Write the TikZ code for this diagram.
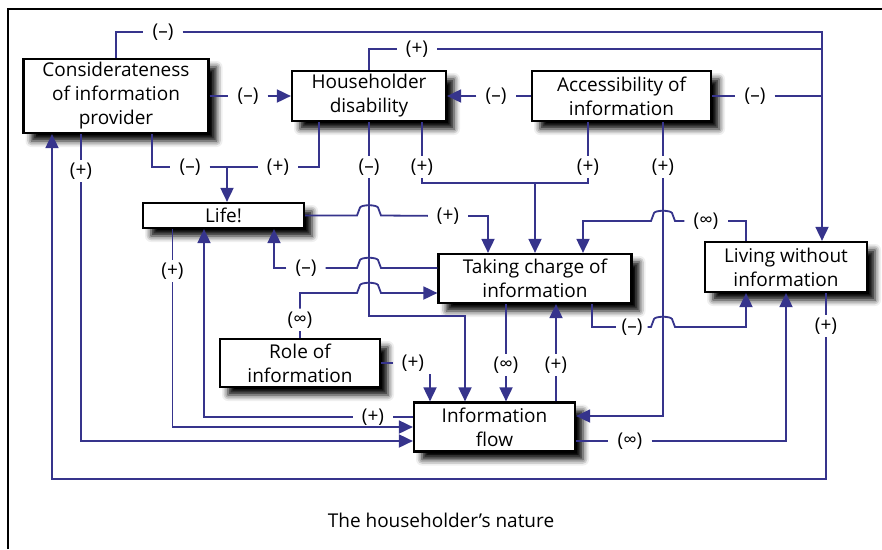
\documentclass[tikz,border=0pt]{standalone}
\usepackage{fontspec}
\setmainfont{Open Sans}
\usetikzlibrary{arrows.meta,shadows.blur}
\definecolor{lnc}{RGB}{54,52,140}
\begin{document}
\begin{tikzpicture}[x=1pt,y=-1pt,
  box/.style={draw=black,line width=2.2pt,fill=white,inner sep=0pt,align=center,
    font=\fontsize{19}{24}\selectfont,
    blur shadow={shadow xshift=8pt,shadow yshift=-8pt,shadow blur radius=6pt,shadow opacity=100}},
  lbl/.style={inner xsep=9pt,inner ysep=3pt,font=\fontsize{19}{22}\selectfont},
  ln/.style={draw=lnc,line width=1.8pt},
  arr/.style={ln,-{Triangle[length=14pt,width=13pt]}},
  hopR/.style 2 args={insert path={-- ({#1-12},{#2}) -- ({#1-9},{#2-8}) .. controls ({#1-7},{#2-11}) and ({#1+7},{#2-11}) .. ({#1+9},{#2-8}) -- ({#1+12},{#2})}},
  hopL/.style 2 args={insert path={-- ({#1+12},{#2}) -- ({#1+9},{#2-8}) .. controls ({#1+7},{#2-11}) and ({#1-7},{#2-11}) .. ({#1-9},{#2-8}) -- ({#1-12},{#2})}}]
\useasboundingbox (0,0) rectangle (882,549);
\draw[line width=2pt] (8,549) -- (8,9) -- (882,9);

% boxes
\node[box,minimum width=185pt,minimum height=74pt] (cons) at (116,96) {Considerateness\\of information\\provider};
\node[box,minimum width=154pt,minimum height=50pt] (hd) at (369,96) {Householder\\disability};
\node[box,minimum width=179pt,minimum height=50pt] (acc) at (621.5,96) {Accessibility of\\information};
\node[box,minimum width=161pt,minimum height=25pt] (life) at (223.5,215.5) {Life!};
\node[box,minimum width=193pt,minimum height=49pt] (tc) at (535,278.5) {Taking charge of\\information};
\node[box,minimum width=162pt,minimum height=50pt] (lwi) at (786,267) {Living without\\information};
\node[box,minimum width=160pt,minimum height=48pt] (role) at (300,363) {Role of\\information};
\node[box,minimum width=161pt,minimum height=49pt] (flow) at (494.5,427) {Information\\flow};

% labels
\node[lbl] (l1) at (163,32) {(–)};
\node[lbl] (l2) at (417,49) {(+)};
\node[lbl] (l3) at (755,96) {(–)};
\node[lbl] (l4) at (248,96) {(–)};
\node[lbl] (l5) at (496,96) {(–)};
\node[lbl] (l6) at (190,167) {(–)};
\node[lbl] (l7) at (278,167) {(+)};
\node[lbl] (l8) at (369,167) {(–)};
\node[lbl] (l9) at (422,167) {(+)};
\node[lbl] (l10) at (588,167) {(+)};
\node[lbl] (l11) at (663,167) {(+)};
\node[lbl] (l12) at (448,216) {(+)};
\node[lbl] (l13) at (306,268) {(–)};
\node[lbl] (l14) at (300,320) {(∞)};
\node[lbl] (l15) at (706,221) {(∞)};
\node[lbl,inner xsep=5pt] (l16) at (632,327) {(–)};
\node[lbl] (l17) at (506,365) {(∞)};
\node[lbl] (l18) at (556,365) {(+)};
\node[lbl] (l19) at (413,363) {(+)};
\node[lbl] (l20) at (172.5,271) {(+)};
\node[lbl] (l21) at (373,417) {(+)};
\node[lbl] (l22) at (81,171) {(+)};
\node[lbl] (l23) at (630,441) {(∞)};
\node[lbl] (l24) at (826,326) {(+)};
\node[font=\fontsize{19}{22}\selectfont] (cap) at (441,520) {The householder{\char39}s nature};

% helper coordinates on borders
\coordinate (lwiR) at ([xshift=36pt]lwi.north);
\coordinate (lifeIn) at ([xshift=3.5pt]life.north);
\coordinate (lifeIn2) at ([xshift=50.5pt]life.south);
\coordinate (lifeIn3) at ([xshift=-19.5pt]life.south);
\coordinate (lifeOut1) at ([xshift=-51pt]life.south);
\coordinate (fIn1) at ([xshift=-29.5pt]flow.north);
\coordinate (fIn2) at ([xshift=-64.5pt]flow.north);
\coordinate (fR1) at ([yshift=11pt]flow.east);
\coordinate (fR2) at ([yshift=-14pt]flow.east);
\coordinate (fL2) at ([yshift=10pt]flow.west);
\coordinate (fL3) at ([yshift=-14pt]flow.west);
\coordinate (tcIn1) at ([xshift=-47pt]tc.north);
\coordinate (tcIn3) at ([xshift=48pt]tc.north);
\coordinate (tcL1) at ([yshift=10.5pt]tc.west);
\coordinate (tcL2) at ([yshift=-14.5pt]tc.west);
\coordinate (lwiIn1) at ([xshift=-40pt]lwi.south);
\coordinate (consIn) at ([xshift=-64pt]cons.south);

% A, B, C
\draw[ln] (cons.north) |- (l1);
\draw[arr] (l1) -| (lwiR);
\draw[ln] (hd.north) |- (l2);
\draw[ln] (l2) -- (l2 -| lwiR);
\draw[ln] (acc.east) -- (l3);
\draw[ln] (l3) -- (l3 -| lwiR);
% D, E
\draw[ln] (cons.east) -- (l4);
\draw[arr] (l4) -- (hd.west);
\draw[ln] (acc.west) -- (l5);
\draw[arr] (l5) -- (hd.east);
% F
\draw[ln] ([xshift=36pt]cons.south) |- (l6);
\draw[ln] (l6) -- (l7);
\draw[arr] (lifeIn |- l6) -- (lifeIn);
\draw[ln] ([xshift=-50pt]hd.south) |- (l7);
% G
\draw[ln] (hd.south) -- (l8);
\draw[arr] (l8) -- (l8 |- 0,316) -| (fIn1);
% H
\draw[ln] ([xshift=53pt]hd.south) -- (l9);
\draw[ln] (l9) -- (l9 |- 0,183) -| (l10);
\draw[ln] ([xshift=-33.5pt]acc.south) -- (l10);
\draw[arr] (tc.north |- 0,183) -- (tc.north);
% I
\draw[ln] ([xshift=41.5pt]acc.south) -- (l11);
\draw[arr] (l11) |- (fR1);
% J
\draw[ln] (life.east) [hopR={369}{215.5}] -- (l12);
\draw[arr] (l12) -| (tcIn1);
% K
\draw[ln] (tcL1) [hopL={369}{268}] -- (l13);
\draw[arr] (l13) -| (lifeIn2);
% L
\draw[ln] (role.north) -- (l14);
\draw[arr] (l14) -- (l14 |- tcL2) [hopR={369}{293}] -- (tcL2);
% M
\draw[ln] ([xshift=-40pt]lwi.north) |- (l15);
\draw[arr] (l15) [hopL={663}{221}] -- (tcIn3 |- 0,221) -- (tcIn3);
% N
\draw[ln] ([xshift=57pt]tc.south) |- (l16);
\draw[arr] (l16) [hopR={663}{327}] -| (lwiIn1);
% O, P
\draw[ln] ([xshift=-29pt]tc.south) -- (l17);
\draw[arr] (l17) -- (l17 |- flow.north);
\draw[ln] (l18 |- flow.north) -- (l18);
\draw[arr] (l18) -- (l18 |- tc.south);
% Q
\draw[ln] (role.east) -- (l19);
\draw[arr] (fIn2 |- l19.south) -- (fIn2);
% R, S, T
\draw[ln] (lifeOut1) -- (l20);
\draw[arr] (l20) |- (flow.west);
\draw[ln] (fL2) -- (l21);
\draw[arr] (l21) -| (lifeIn3);
\draw[ln] ([xshift=-35pt]cons.south) -- (l22);
\draw[arr] (l22) |- (fL3);
% U, V
\draw[ln] (fR2) -- (l23);
\draw[arr] (l23) -| (lwi.south);
\draw[ln] ([xshift=40pt]lwi.south) -- (l24);
\draw[arr] (l24) -- (l24 |- 0,479) -| (consIn);
\end{tikzpicture}
\end{document}
